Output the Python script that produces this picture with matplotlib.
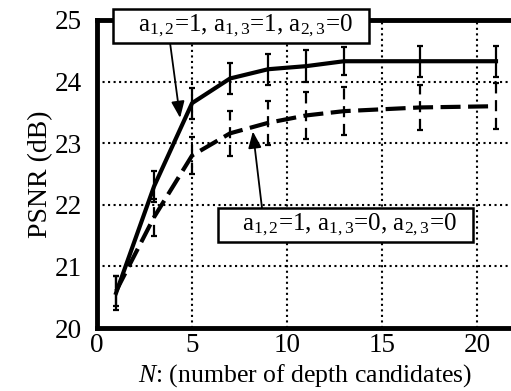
import matplotlib.pyplot as plt
from matplotlib.patches import Rectangle
import numpy as np

plt.rcParams['font.family'] = 'Liberation Serif'
plt.rcParams['mathtext.fontset'] = 'custom'
plt.rcParams['mathtext.rm'] = 'Liberation Serif'
plt.rcParams['mathtext.it'] = 'Liberation Serif:italic'

# data
n_cand = [1, 3, 5, 7, 9, 11, 13, 17, 21]
psnr_full = [20.57, 22.3, 23.65, 24.05, 24.2, 24.25, 24.33, 24.33, 24.33]
err_full = [0.27, 0.25, 0.25, 0.25, 0.25, 0.26, 0.23, 0.25, 0.25]
psnr_part = [20.6, 21.8, 22.8, 23.16, 23.33, 23.45, 23.52, 23.58, 23.6]
err_part = [0.25, 0.3, 0.3, 0.36, 0.36, 0.38, 0.39, 0.37, 0.37]

label_full = r'a$_{1,2}$=1, a$_{1,3}$=1, a$_{2,3}$=0'
label_part = r'a$_{1,2}$=1, a$_{1,3}$=0, a$_{2,3}$=0'

fig = plt.figure(figsize=(5.11, 3.91), dpi=100)
ax = fig.add_axes([0.19, 0.161, 0.855, 0.788])

# solid curve with error bars
ax.errorbar(n_cand, psnr_full, yerr=err_full, color='k', lw=3,
            elinewidth=1.6, capsize=2, capthick=1.6, zorder=4)

# dashed curve, dashed error bars
line, caps, bars = ax.errorbar(n_cand, psnr_part, yerr=err_part, color='k', lw=3,
                               ls='--', elinewidth=1.6, capsize=2, capthick=1.6, zorder=4)
line.set_dashes([4.8, 1.8])
bars[0].set_linestyle((0, (5, 3)))

ax.set_xlim(0, 23)
ax.set_ylim(20, 25)
ax.set_xticks([0, 5, 10, 15, 20])
ax.set_yticks([20, 21, 22, 23, 24, 25])
ax.grid(True, color='k', ls=':', lw=1.5)
ax.tick_params(length=0, labelsize=19.5)
ax.tick_params(axis='y', pad=11)
ax.tick_params(axis='x', pad=3.5)
for s in ax.spines.values():
    s.set_linewidth(3.5)

ax.set_ylabel('PSNR (dB)', fontsize=20, labelpad=1)
ax.set_xlabel(r'$\mathit{N}$: (number of depth candidates)', fontsize=18.5)
ax.xaxis.set_label_coords(0.476, -0.112)

# arrows from the label boxes to the curves
arrow = dict(arrowstyle='-|>,head_length=1.0,head_width=0.4', color='k', lw=1.3,
             shrinkA=0, shrinkB=0)
ax.annotate('', xy=(4.37, 23.41), xytext=(3.84, 24.63), arrowprops=arrow, zorder=5)
ax.annotate('', xy=(8.2, 23.19), xytext=(8.68, 21.95), arrowprops=arrow, zorder=5)

# label boxes
ax.add_patch(Rectangle((0.84, 24.63), 13.46, 0.54, fc='white', ec='k', lw=1.8,
                       zorder=6, clip_on=False))
ax.text(2.16, 24.9, label_full, fontsize=18, ha='left', va='center',
        zorder=7, clip_on=False)
ax.add_patch(Rectangle((6.37, 21.40), 13.42, 0.55, fc='white', ec='k', lw=1.8,
                       zorder=6))
ax.text(7.63, 21.675, label_part, fontsize=18, ha='left', va='center', zorder=7)

fig.savefig('out.png', dpi=100)
